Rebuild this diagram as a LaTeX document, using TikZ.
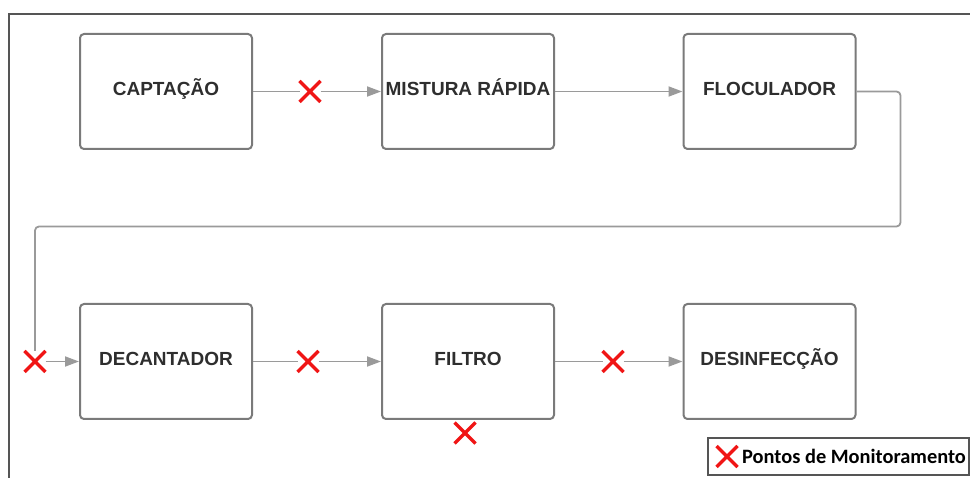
\documentclass[tikz,border=0pt]{standalone}
\usepackage{fontspec}
\setmainfont{Liberation Sans}
\newfontfamily\legfont{Carlito}
\usetikzlibrary{arrows.meta,shapes.misc}
\definecolor{borda}{HTML}{7A7A7A}
\definecolor{seta}{HTML}{9A9A9A}
\definecolor{texto}{HTML}{2E2E2E}
\definecolor{moldura}{HTML}{555555}
\definecolor{vermelho}{HTML}{F01515}
\begin{document}
\begin{tikzpicture}[x=1pt,y=-1pt,
    etapa/.style={draw=borda,line width=2pt,rounded corners=4pt,minimum width=172pt,
      minimum height=115pt,inner sep=0pt,text=texto,text height=8.6pt,text depth=0pt,
      font=\fontsize{19}{22}\selectfont\bfseries},
    marca/.style={cross out,draw=vermelho,line width=3.5pt,minimum size=15pt,
      inner sep=0pt,outer sep=3pt},
    linha/.style={seta,line width=1.8pt},
    fluxo/.style={linha,-{Triangle[length=14pt,width=10pt]}}]
    \useasboundingbox (0,0) rectangle (970,478);
    \draw[moldura,line width=1.5pt] (970,14)--(9,14)--(9,478);
    \node[etapa] (cap) at (166,91.5) {CAPTAÇÃO};
    \node[etapa] (mix) at (468,91.5) {MISTURA RÁPIDA};
    \node[etapa] (floc) at (769.5,91.5) {FLOCULADOR};
    \node[etapa] (dec) at (166,361.5) {DECANTADOR};
    \node[etapa] (filt) at (468,361.5) {FILTRO};
    \node[etapa] (des) at (769.5,361.5) {DESINFECÇÃO};
    \node[marca] (m1) at (310,91.5) {};
    \node[marca] (m2) at (35,361.5) {};
    \node[marca] (m3) at (308,361.5) {};
    \node[marca] (m4) at (613,361.5) {};
    \node[marca] (m5) at (465,433) {};
    \draw[linha] (cap.east)--(m1);
    \draw[fluxo] (m1)--(mix.west);
    \draw[fluxo] (mix.east)--(floc.west);
    \draw[linha,rounded corners=4pt] (floc.east)--++(44,0)--++(0,135)-|(m2.north);
    \draw[fluxo] (m2)--(dec.west);
    \draw[linha] (dec.east)--(m3);
    \draw[fluxo] (m3)--(filt.west);
    \draw[linha] (filt.east)--(m4);
    \draw[fluxo] (m4)--(des.west);
    \node[draw=moldura,line width=1.5pt,minimum width=261pt,minimum height=37pt,
      inner sep=0pt] (leg) at (838.5,456.5) {};
    \node[marca] (legx) at (727,456.5) {};
    \node[anchor=west,inner sep=0pt,text=black,font=\legfont\bfseries\fontsize{20.4}{24}\selectfont]
      (legtxt) at (742,456.5) {Pontos de Monitoramento};
  \end{tikzpicture}
\end{document}
